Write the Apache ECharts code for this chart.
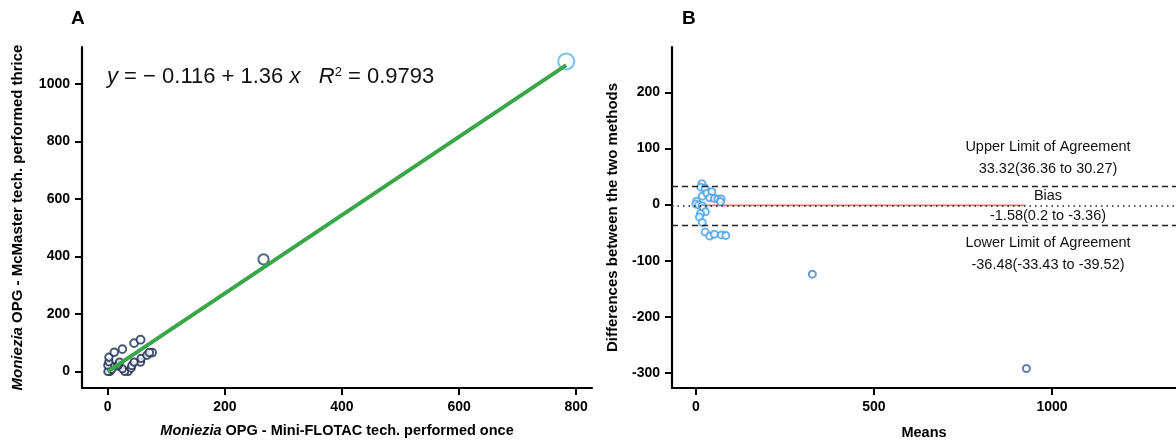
<!DOCTYPE html>
<html>
<head>
<meta charset="utf-8">
<script src="https://cdn.jsdelivr.net/npm/echarts@6/dist/echarts.min.js"></script>
<style>
  html, body { margin: 0; padding: 0; background: #fff; }
  #chart { width: 1176px; height: 441px; }
</style>
</head>
<body>
<div id="chart"></div>
<script>
// A: Moniezia OPG, Mini-FLOTAC once (x) vs McMaster thrice (y)
const flotacOnce     = [35, 29, 40, 25, 41, 56, 45, 57, 67, 76, 71, 4, 0, 7, 17, 18, 20, 5, 0, 2, 2, 11, 25, 45, 56, 266, 783];
const mcmasterThrice = [0, 0, 12, 10, 21, 33, 33, 46, 57, 66, 66, 0, 0, 8, 19, 24, 33, 21, 22, 34, 50, 67, 78, 99, 111, 390, 1078];
// fitted line end points (y = -0.116 + 1.36x)
const fitX = [0, 783];
const fitY = [0, 1065];

// B: Bland-Altman
const means = [17, 14, 26, 18, 31, 45, 39, 52, 62, 71, 69, 2, 0, 8, 18, 21, 27, 13, 10, 18, 26, 39, 52, 72, 84, 327, 928];
const diffs = [37, 31, 29, 15, 20, 23, 12, 11, 10, 10, 5, 6, 1, -1, -2, -7, -13, -16, -22, -32, -49, -56, -53, -54, -55, -124, -292];
const upperLoA = 33.32;
const bias = -1.58;
const lowerLoA = -36.48;
const biasLineX = [0, 924];

const ticksAX = [0, 200, 400, 600, 800];
const ticksAY = [0, 200, 400, 600, 800, 1000];
const ticksBX = [0, 500, 1000];
const ticksBY = [-300, -200, -100, 0, 100, 200];

const FONT = '"Liberation Sans", Arial, sans-serif';

function axisStyle(ticks) {
    return {
        axisLine: { show: true, onZero: false, lineStyle: { color: '#000', width: 2.2 } },
        axisTick: { show: true, length: 7, lineStyle: { color: '#000', width: 2 }, customValues: ticks },
        axisLabel: {
            color: '#000', fontWeight: 'bold', fontSize: 14, fontFamily: FONT,
            customValues: ticks, margin: 12, formatter: v => String(v)
        },
        splitLine: { show: false }
    };
}

function nameStyle(size) {
    return {
        color: '#000', fontWeight: 'bold', fontSize: size, fontFamily: FONT,
        rich: { it: { fontStyle: 'italic', fontWeight: 'bold', fontSize: size, fontFamily: FONT, color: '#000' } }
    };
}

const chart = echarts.init(document.getElementById('chart'));

const option = {
    animation: false,
    grid: [
        { left: 82, top: 47, width: 510, height: 341, outerBoundsMode: 'none' },
        { left: 672, top: 47, right: 0, height: 341, outerBoundsMode: 'none' }
    ],
    xAxis: [
        Object.assign({
            gridIndex: 0, type: 'value', min: -44, max: 827,
            name: '{it|Moniezia} OPG - Mini-FLOTAC tech. performed once',
            nameLocation: 'middle', nameGap: 35, nameTextStyle: nameStyle(14.5)
        }, axisStyle(ticksAX)),
        Object.assign({
            gridIndex: 1, type: 'value', min: -67, max: 1348,
            name: 'Means', nameLocation: 'middle', nameGap: 37, nameTextStyle: nameStyle(14.5)
        }, axisStyle(ticksBX))
    ],
    yAxis: [
        Object.assign({
            gridIndex: 0, type: 'value', min: -57, max: 1128,
            name: '{it|Moniezia} OPG - McMaster tech. performed thrice',
            nameLocation: 'middle', nameGap: 57, nameTextStyle: nameStyle(15)
        }, axisStyle(ticksAY)),
        Object.assign({
            gridIndex: 1, type: 'value', min: -326.7, max: 280.6,
            name: 'Differences between the two methods',
            nameLocation: 'middle', nameGap: 52, nameTextStyle: nameStyle(15)
        }, axisStyle(ticksBY))
    ],
    visualMap: [
        {
            show: false, type: 'continuous', seriesIndex: 0, dimension: 1,
            min: 0, max: 1078,
            inRange: { color: ['#19294a', '#27497e', '#56b1f2'], symbolSize: [7, 16] }
        },
        {
            show: false, type: 'continuous', seriesIndex: 2, dimension: 0,
            min: 0, max: 928,
            inRange: { color: ['#4aa3e8', '#3e74bd', '#3a5c98'] }
        }
    ],
    series: [
        {
            type: 'scatter', xAxisIndex: 0, yAxisIndex: 0,
            symbol: 'emptyCircle',
            itemStyle: { borderWidth: 2.6 },
            data: flotacOnce.map((v, i) => [v, mcmasterThrice[i]]),
            z: 2
        },
        {
            type: 'line', xAxisIndex: 0, yAxisIndex: 0,
            data: fitX.map((v, i) => [v, fitY[i]]),
            symbol: 'none',
            lineStyle: { color: '#3aa64a', width: 4 },
            z: 3
        },
        {
            type: 'scatter', xAxisIndex: 1, yAxisIndex: 1,
            symbol: 'emptyCircle', symbolSize: 7,
            itemStyle: { borderWidth: 1.3 },
            data: means.map((v, i) => [v, diffs[i]]),
            z: 3
        },
        {
            type: 'line', xAxisIndex: 1, yAxisIndex: 1,
            data: biasLineX.map(v => [v, bias]),
            symbol: 'none',
            lineStyle: { color: '#f27272', width: 1.8 },
            z: 2,
            markLine: {
                silent: true, symbol: 'none', label: { show: false },
                data: [
                    { yAxis: upperLoA, lineStyle: { type: [6, 4], color: '#222', width: 1.3 } },
                    { yAxis: bias, lineStyle: { type: [1.5, 4], color: '#222', width: 1.5 } },
                    { yAxis: lowerLoA, lineStyle: { type: [6, 4], color: '#222', width: 1.3 } }
                ]
            }
        }
    ],
    graphic: [
        { type: 'text', left: 71, top: 9, style: { text: 'A', fontSize: 19, fontWeight: 'bold', fontFamily: FONT, fill: '#000' } },
        { type: 'text', left: 682, top: 9, style: { text: 'B', fontSize: 19, fontWeight: 'bold', fontFamily: FONT, fill: '#000' } },
        {
            type: 'text', left: 107, top: 66,
            style: {
                text: '{i|y} = − 0.116 + 1.36 {i|x}   {i|R}{s|2} = 0.9793',
                fontSize: 22, fontFamily: FONT, fill: '#111',
                rich: {
                    i: { fontStyle: 'italic', fontSize: 22, fontFamily: FONT, fill: '#111' },
                    s: { fontSize: 13, fontFamily: FONT, verticalAlign: 'top', fill: '#111' }
                }
            }
        },
        { type: 'text', x: 1048, y: 147, style: { text: 'Upper Limit of Agreement', fontSize: 14.5, fontFamily: FONT, fill: '#111', align: 'center', verticalAlign: 'middle' } },
        { type: 'text', x: 1048, y: 169, style: { text: '33.32(36.36 to 30.27)', fontSize: 14.5, fontFamily: FONT, fill: '#111', align: 'center', verticalAlign: 'middle' } },
        { type: 'text', x: 1048, y: 196, style: { text: 'Bias', fontSize: 14.5, fontFamily: FONT, fill: '#111', align: 'center', verticalAlign: 'middle' } },
        { type: 'text', x: 1048, y: 216, style: { text: '-1.58(0.2 to -3.36)', fontSize: 14.5, fontFamily: FONT, fill: '#111', align: 'center', verticalAlign: 'middle' } },
        { type: 'text', x: 1048, y: 243, style: { text: 'Lower Limit of Agreement', fontSize: 14.5, fontFamily: FONT, fill: '#111', align: 'center', verticalAlign: 'middle' } },
        { type: 'text', x: 1048, y: 265, style: { text: '-36.48(-33.43 to -39.52)', fontSize: 14.5, fontFamily: FONT, fill: '#111', align: 'center', verticalAlign: 'middle' } }
    ]
};

chart.setOption(option);
</script>
</body>
</html>
